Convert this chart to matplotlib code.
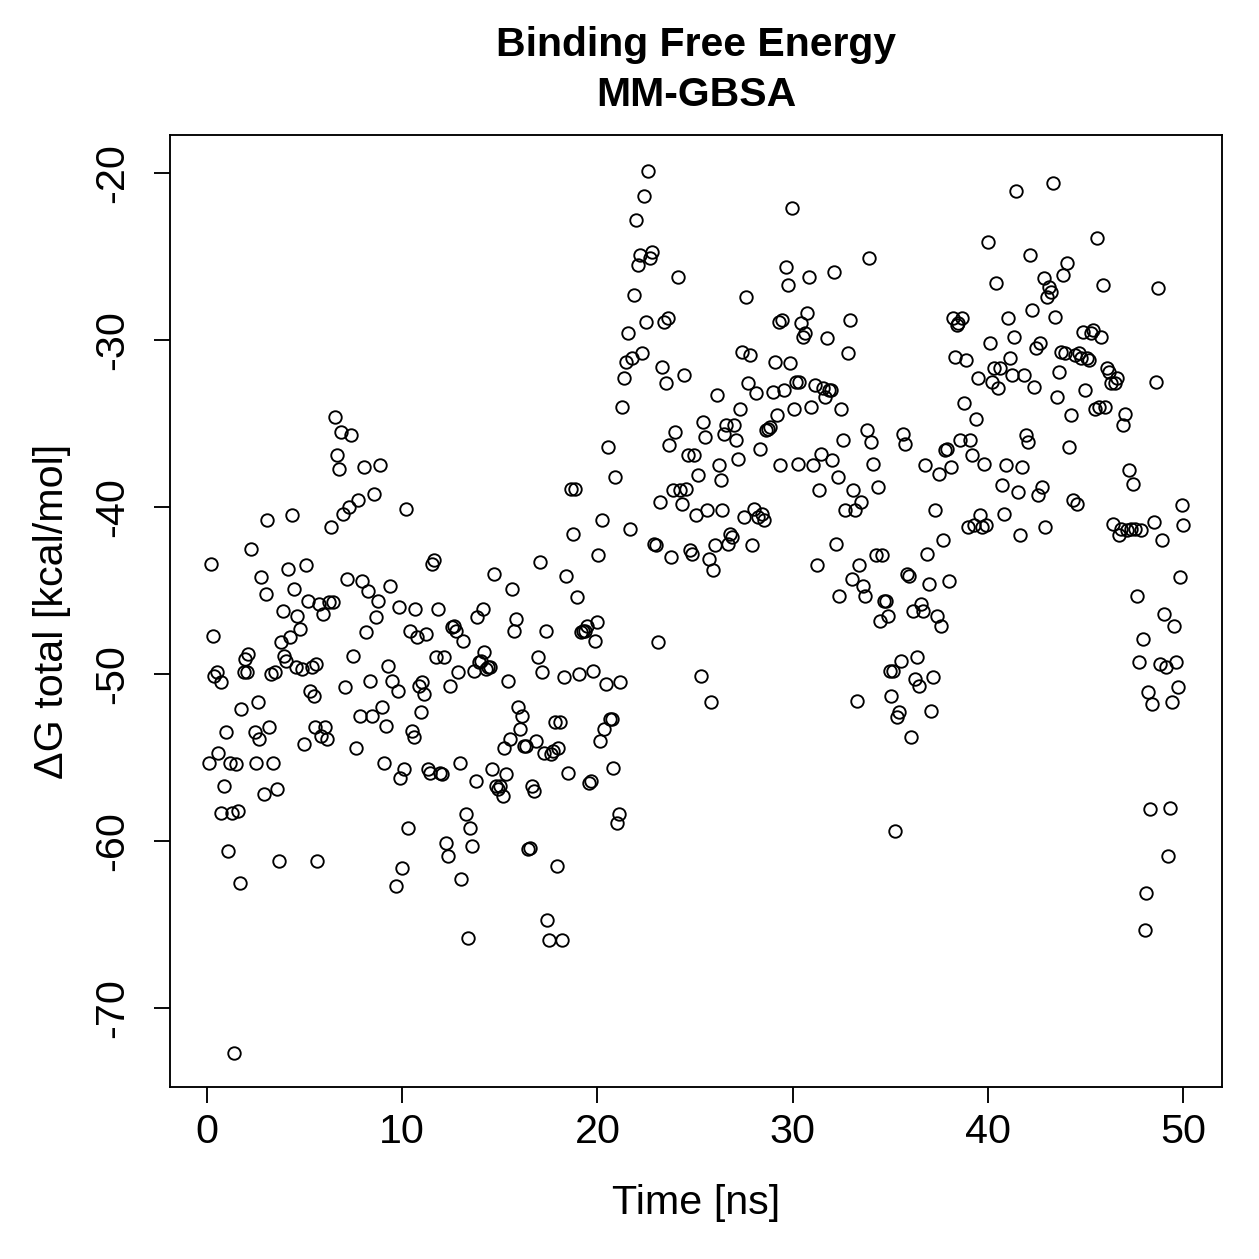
import matplotlib
matplotlib.use("Agg")
import matplotlib.pyplot as plt

plt.rcParams['font.family'] = ['Liberation Sans', 'DejaVu Sans']

# simulation time (ns) and total binding free energy (kcal/mol)
time_ns = [
    0.10, 0.20, 0.31, 0.36, 0.51, 0.56, 0.72, 0.72, 0.87, 0.97,
    1.08, 1.18, 1.28, 1.38, 1.49, 1.59, 1.69, 1.74, 1.90, 1.95,
    2.05, 2.10, 2.25, 2.46, 2.51, 2.61, 2.66, 2.77, 2.92, 3.02,
    3.07, 3.18, 3.28, 3.38, 3.48, 3.59, 3.69, 3.79, 3.89, 3.94,
    4.05, 4.15, 4.25, 4.35, 4.46, 4.56, 4.61, 4.76, 4.87, 4.97,
    5.07, 5.17, 5.28, 5.38, 5.48, 5.53, 5.58, 5.64, 5.74, 5.84,
    5.94, 6.05, 6.15, 6.25, 6.35, 6.45, 6.56, 6.66, 6.76, 6.86,
    6.97, 7.07, 7.17, 7.27, 7.38, 7.48, 7.63, 7.74, 7.84, 7.94,
    8.04, 8.15, 8.25, 8.35, 8.45, 8.56, 8.66, 8.76, 8.86, 8.97,
    9.07, 9.17, 9.27, 9.38, 9.48, 9.68, 9.78, 9.84, 9.89, 9.99,
    10.09, 10.19, 10.30, 10.40, 10.50, 10.60, 10.66, 10.76, 10.86, 10.96,
    11.01, 11.12, 11.22, 11.32, 11.42, 11.53, 11.63, 11.73, 11.83, 11.94,
    12.04, 12.14, 12.24, 12.35, 12.45, 12.55, 12.65, 12.76, 12.86, 12.96,
    13.01, 13.11, 13.27, 13.37, 13.47, 13.58, 13.68, 13.78, 13.83, 13.93,
    14.04, 14.14, 14.19, 14.29, 14.40, 14.50, 14.60, 14.70, 14.81, 14.91,
    15.01, 15.16, 15.22, 15.32, 15.42, 15.52, 15.62, 15.73, 15.83, 15.93,
    16.03, 16.14, 16.24, 16.34, 16.44, 16.55, 16.65, 16.75, 16.85, 16.96,
    17.06, 17.16, 17.26, 17.37, 17.42, 17.52, 17.62, 17.73, 17.83, 17.93,
    17.98, 18.08, 18.19, 18.29, 18.39, 18.49, 18.65, 18.75, 18.85, 18.95,
    19.06, 19.16, 19.26, 19.36, 19.47, 19.57, 19.67, 19.77, 19.88, 19.98,
    20.03, 20.13, 20.24, 20.34, 20.44, 20.54, 20.65, 20.75, 20.80, 20.90,
    21.00, 21.11, 21.16, 21.26, 21.36, 21.47, 21.57, 21.67, 21.77, 21.88,
    21.98, 22.08, 22.18, 22.28, 22.39, 22.49, 22.59, 22.69, 22.80, 22.90,
    23.00, 23.10, 23.21, 23.31, 23.41, 23.51, 23.62, 23.67, 23.77, 23.87,
    23.98, 24.13, 24.23, 24.33, 24.44, 24.54, 24.64, 24.74, 24.85, 24.95,
    25.05, 25.15, 25.31, 25.41, 25.51, 25.61, 25.72, 25.82, 25.92, 26.02,
    26.13, 26.23, 26.33, 26.38, 26.49, 26.59, 26.69, 26.79, 26.90, 27.00,
    27.10, 27.20, 27.31, 27.41, 27.51, 27.61, 27.72, 27.82, 27.92, 28.02,
    28.12, 28.23, 28.33, 28.43, 28.53, 28.64, 28.74, 28.84, 28.99, 29.10,
    29.20, 29.30, 29.35, 29.46, 29.56, 29.66, 29.76, 29.87, 29.97, 30.07,
    30.17, 30.28, 30.33, 30.43, 30.53, 30.64, 30.74, 30.84, 30.94, 31.05,
    31.15, 31.25, 31.35, 31.45, 31.56, 31.66, 31.76, 31.86, 31.97, 32.02,
    32.12, 32.22, 32.33, 32.38, 32.48, 32.58, 32.68, 32.84, 32.94, 33.04,
    33.09, 33.20, 33.30, 33.40, 33.50, 33.61, 33.71, 33.81, 33.91, 34.02,
    34.12, 34.27, 34.38, 34.48, 34.58, 34.68, 34.78, 34.89, 34.99, 35.04,
    35.14, 35.25, 35.35, 35.45, 35.55, 35.66, 35.76, 35.86, 35.96, 36.07,
    36.17, 36.27, 36.37, 36.48, 36.58, 36.68, 36.78, 36.89, 36.99, 37.09,
    37.19, 37.30, 37.40, 37.50, 37.60, 37.70, 37.81, 37.91, 38.01, 38.11,
    38.22, 38.32, 38.42, 38.47, 38.58, 38.68, 38.78, 38.88, 38.99, 39.09,
    39.19, 39.29, 39.40, 39.50, 39.60, 39.70, 39.81, 39.91, 40.01, 40.11,
    40.22, 40.32, 40.42, 40.52, 40.63, 40.73, 40.83, 40.93, 41.03, 41.14,
    41.24, 41.34, 41.44, 41.55, 41.65, 41.75, 41.85, 41.96, 42.06, 42.16,
    42.26, 42.37, 42.47, 42.57, 42.67, 42.78, 42.88, 42.93, 43.03, 43.13,
    43.24, 43.34, 43.44, 43.55, 43.65, 43.75, 43.85, 43.95, 44.06, 44.16,
    44.26, 44.36, 44.47, 44.57, 44.67, 44.77, 44.88, 44.98, 45.08, 45.18,
    45.29, 45.39, 45.49, 45.59, 45.70, 45.80, 45.90, 46.00, 46.11, 46.21,
    46.31, 46.41, 46.52, 46.62, 46.72, 46.82, 46.93, 47.03, 47.13, 47.23,
    47.34, 47.44, 47.54, 47.64, 47.75, 47.85, 47.95, 48.05, 48.10, 48.21,
    48.31, 48.41, 48.51, 48.62, 48.72, 48.82, 48.92, 49.03, 49.13, 49.23,
    49.33, 49.44, 49.54, 49.64, 49.74, 49.85, 49.95, 50.00,
]

dg_total = [
    -55.3, -43.4, -47.7, -50.1, -49.9, -54.7, -50.5, -58.3, -56.7, -53.5,
    -60.6, -55.3, -58.3, -72.7, -55.4, -58.2, -62.5, -52.1, -49.9, -49.1,
    -49.9, -48.8, -42.5, -53.5, -55.3, -51.7, -53.9, -44.2, -57.2, -45.2,
    -40.8, -53.2, -50.0, -55.3, -49.9, -56.9, -61.2, -48.1, -46.2, -48.9,
    -49.2, -43.7, -47.8, -40.5, -44.9, -49.6, -46.5, -47.3, -49.7, -54.2,
    -43.5, -45.6, -51.0, -49.6, -51.3, -53.2, -49.4, -61.2, -45.8, -53.7,
    -46.4, -53.2, -53.9, -45.7, -41.2, -45.7, -34.6, -36.9, -37.7, -35.5,
    -40.4, -50.8, -44.3, -40.0, -35.7, -48.9, -54.4, -39.6, -52.5, -44.4,
    -37.6, -47.5, -45.0, -50.4, -52.5, -39.2, -46.6, -45.6, -37.5, -52.0,
    -55.3, -53.1, -49.5, -44.7, -50.4, -62.7, -51.0, -46.0, -56.2, -61.6,
    -55.7, -40.1, -59.2, -47.4, -53.4, -53.8, -46.1, -47.8, -50.7, -52.3,
    -50.5, -51.2, -47.6, -55.7, -55.9, -43.4, -43.2, -49.0, -46.1, -55.9,
    -56.0, -49.0, -60.1, -60.9, -50.7, -47.2, -47.1, -47.4, -49.9, -55.3,
    -62.3, -48.0, -58.4, -65.8, -59.2, -60.3, -49.8, -56.4, -46.6, -49.3,
    -49.2, -46.1, -48.7, -49.7, -49.6, -49.6, -55.7, -44.0, -56.7, -56.9,
    -56.7, -57.3, -54.4, -56.0, -50.4, -53.9, -44.9, -47.4, -46.7, -52.0,
    -53.3, -52.5, -54.3, -54.3, -60.5, -60.4, -56.7, -57.0, -54.0, -49.0,
    -43.3, -49.9, -54.7, -47.4, -64.7, -65.9, -54.8, -54.6, -52.9, -61.5,
    -54.4, -52.9, -65.9, -50.2, -44.1, -55.9, -38.9, -41.6, -38.9, -45.4,
    -50.0, -47.5, -47.4, -47.4, -47.1, -56.5, -56.4, -49.8, -48.0, -46.9,
    -42.9, -54.0, -40.8, -53.3, -50.6, -36.4, -52.7, -52.7, -55.6, -38.2,
    -58.9, -58.4, -50.5, -34.0, -32.3, -31.3, -29.6, -41.3, -31.1, -27.3,
    -22.8, -25.5, -24.9, -30.8, -21.4, -28.9, -19.9, -25.1, -24.7, -42.2,
    -42.3, -48.1, -39.7, -31.6, -28.9, -32.6, -28.7, -36.3, -43.0, -39.0,
    -35.5, -26.2, -39.0, -39.8, -32.1, -38.9, -36.9, -42.6, -42.8, -36.9,
    -40.5, -38.1, -50.1, -34.9, -35.8, -40.2, -43.1, -51.7, -43.8, -42.3,
    -33.3, -37.5, -38.4, -40.2, -35.6, -35.1, -42.2, -41.6, -41.8, -35.1,
    -36.0, -37.1, -34.1, -30.7, -40.6, -27.4, -32.6, -30.9, -42.3, -40.1,
    -33.2, -40.6, -36.5, -40.4, -40.8, -35.4, -35.3, -35.2, -33.1, -31.3,
    -34.5, -28.9, -37.5, -28.8, -33.0, -25.6, -26.7, -31.4, -22.1, -34.1,
    -32.5, -37.4, -32.5, -29.0, -29.8, -29.6, -28.4, -26.2, -34.0, -37.5,
    -32.7, -43.5, -39.0, -36.8, -32.9, -33.4, -29.9, -33.0, -33.0, -37.2,
    -25.9, -42.2, -38.2, -45.3, -34.1, -36.0, -40.2, -30.8, -28.8, -44.3,
    -39.0, -40.2, -51.6, -43.5, -39.7, -44.7, -45.3, -35.4, -25.1, -36.1,
    -37.4, -42.9, -38.8, -46.8, -42.9, -45.6, -45.6, -46.5, -49.8, -51.3,
    -49.8, -59.4, -52.6, -52.3, -49.2, -35.6, -36.2, -44.0, -44.1, -53.8,
    -46.2, -50.3, -49.0, -50.7, -45.8, -46.2, -37.5, -42.8, -44.6, -52.2,
    -50.2, -40.2, -46.5, -38.0, -47.1, -42.0, -36.6, -36.5, -44.4, -37.6,
    -28.7, -31.0, -29.1, -29.0, -36.0, -28.7, -33.8, -31.2, -41.2, -36.0,
    -36.9, -41.1, -34.7, -32.3, -40.5, -41.2, -37.4, -41.1, -24.1, -30.2,
    -32.5, -31.7, -26.6, -32.9, -31.7, -38.7, -40.4, -37.5, -28.7, -31.1,
    -32.1, -29.8, -21.1, -39.1, -41.7, -37.6, -32.1, -35.7, -36.1, -24.9,
    -28.2, -32.8, -30.5, -39.3, -30.2, -38.8, -26.3, -41.2, -27.4, -26.8,
    -27.1, -20.6, -28.6, -33.4, -31.9, -30.7, -26.1, -30.8, -25.4, -36.4,
    -34.5, -39.6, -30.9, -39.8, -30.8, -31.1, -29.5, -33.0, -31.1, -31.2,
    -29.6, -29.4, -34.1, -23.9, -34.0, -29.8, -26.7, -34.0, -31.7, -31.9,
    -32.6, -41.0, -32.6, -32.3, -41.7, -41.3, -35.1, -34.4, -41.4, -37.8,
    -41.3, -38.6, -41.3, -45.3, -49.3, -41.4, -47.9, -65.3, -63.1, -51.1,
    -58.1, -51.8, -40.9, -32.5, -26.9, -49.4, -42.0, -46.4, -49.6, -60.9,
    -58.0, -51.7, -47.1, -49.3, -50.8, -44.2, -39.9, -41.1,
]

x_ticks = [0, 10, 20, 30, 40, 50]
y_ticks = [-70, -60, -50, -40, -30, -20]

fig = plt.figure(figsize=(1259 / 180, 1259 / 180), dpi=180)
ax = fig.add_axes([0.135, 0.1366, 0.8356, 0.7562])

ax.plot(time_ns, dg_total, linestyle='none', marker='o', markersize=5.0,
        markerfacecolor='none', markeredgecolor='black', markeredgewidth=0.75)

ax.set_xlim(-1.9, 52.0)
ax.set_ylim(-74.73, -17.72)
ax.set_xticks(x_ticks)
ax.set_yticks(y_ticks)
ax.set_yticklabels([str(v) for v in y_ticks], rotation=90, va='center')
ax.tick_params(direction='out', length=6.5, width=0.75, labelsize=16.5)
ax.tick_params(axis='x', pad=4)
ax.tick_params(axis='y', pad=9)
for s in ax.spines.values():
    s.set_linewidth(0.75)

ax.set_xlabel("Time [ns]", fontsize=16.5, va='center')
ax.set_ylabel("\u0394G total [kcal/mol]", fontsize=16.5, va='center')
ax.xaxis.set_label_coords(0.5, -(1203 - 1087) / 952)
ax.yaxis.set_label_coords(-(170 - 52) / 1052, 0.5)

fig.text(0.553, 1 - 45 / 1259, "Binding Free Energy", ha='center', va='center',
         fontsize=16.4, fontweight='bold')
fig.text(0.553, 1 - 95 / 1259, "MM-GBSA", ha='center', va='center',
         fontsize=16.4, fontweight='bold')

fig.savefig("out.png", dpi=180)
